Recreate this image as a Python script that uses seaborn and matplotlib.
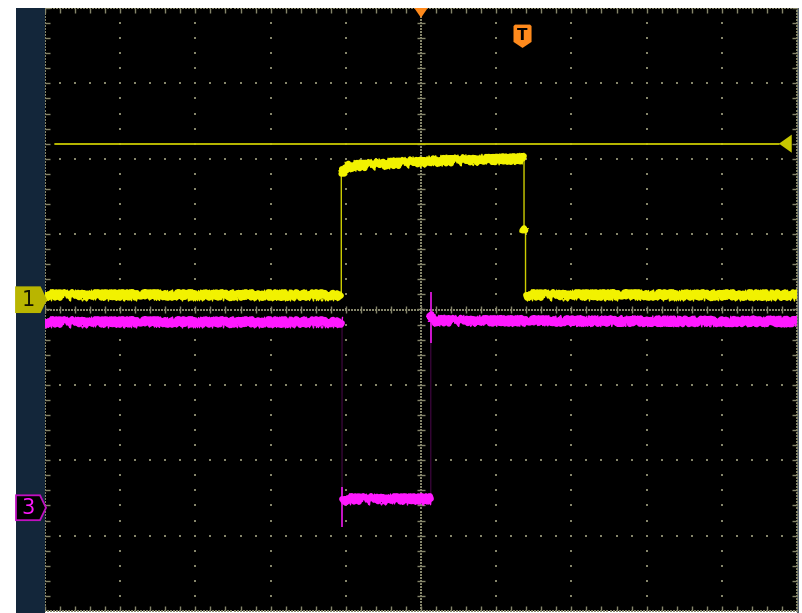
import numpy as np
import pandas as pd
import matplotlib
matplotlib.use("Agg")
import matplotlib.pyplot as plt
import seaborn as sns
from matplotlib.patches import Polygon, Rectangle

# Screen is 10 horizontal x 8 vertical divisions, values are in divisions
ch1_time = [-5.0, -1.06, -1.06, -1.04, -0.95, -0.5, 0.2, 1.37, 1.37, 1.39, 1.39, 5.0]
ch1_level = [0.19, 0.19, 1.80, 1.86, 1.90, 1.93, 1.97, 2.0, 1.08, 1.05, 0.19, 0.19]

ch3_time = [-5.0, -1.05, -1.05, -1.03, 0.13, 0.13, 0.14, 0.17, 5.0]
ch3_level = [-0.16, -0.16, -2.52, -2.52, -2.52, -0.16, -0.06, -0.15, -0.16]

# ringing glitches on channel 3 edges
ch3_glitch_time = [-1.05, 0.13]
ch3_glitch_low = [-2.88, -0.45]
ch3_glitch_high = [-2.36, 0.23]

trigger_level = 2.2
ch1_ground = 0.13
ch3_ground = -2.63

YELLOW = "#f2f200"
MAGENTA = "#ff19ff"
ORANGE = "#ff8a1c"
GRID = "#85856a"
PANEL = "#13263a"

sns.set_style("dark")
fig = plt.figure(figsize=(8.02, 6.13), dpi=100, facecolor="white")
W, H = 802, 613
ax = fig.add_axes([45 / W, 2 / H, 752 / W, 603 / H])
ax.set_facecolor("black")
ax.set_xlim(-5, 5)
ax.set_ylim(-4, 4)
ax.set_xticks([])
ax.set_yticks([])
for s in ax.spines.values():
    s.set_visible(False)

# side panel holding the channel markers
fig.patches.append(Rectangle((16 / W, 0), 29 / W, 1 - 8 / H, transform=fig.transFigure,
                             facecolor=PANEL, edgecolor="none", zorder=-1))
fig.patches.append(Rectangle((797 / W, 0), 2 / W, 1 - 8 / H, transform=fig.transFigure,
                             facecolor="#55606a", edgecolor="none", zorder=-1))

# graticule: dotted division lines
minor = np.arange(-5, 5.001, 0.2)
minor_y = np.arange(-4, 4.001, 0.2)
dot = dict(s=1.7, marker="s", linewidths=0, color=GRID, zorder=1)
for gx in range(-4, 5):
    if gx == 0:
        continue
    ax.scatter(np.full_like(minor_y, gx), minor_y, **dot)
for gy in range(-3, 4):
    if gy == 0:
        continue
    ax.scatter(minor, np.full_like(minor, gy), **dot)

# center cross and border with dense dots and tick marks
dense_x = np.arange(-5, 5.001, 0.04)
dense_y = np.arange(-4, 4.001, 0.04)
for cx in (0, -5, 5):
    ax.scatter(np.full_like(dense_y, cx), dense_y, **dot)
for cy in (0, -4, 4):
    ax.scatter(dense_x, np.full_like(dense_x, cy), **dot)
tick = dict(color=GRID, lw=1.0, zorder=1, solid_capstyle="butt")
for yy in minor_y:
    ax.plot([-0.05, 0.05], [yy, yy], **tick)
    ax.plot([-5, -4.93], [yy, yy], **tick)
    ax.plot([4.93, 5], [yy, yy], **tick)
for xx in minor:
    ax.plot([xx, xx], [-0.05, 0.05], **tick)
    ax.plot([xx, xx], [-4, -3.93], **tick)
    ax.plot([xx, xx], [3.93, 4], **tick)

# trigger level line
ax.plot([-4.87, 4.76], [trigger_level, trigger_level], color="#c8c800", lw=1.3, zorder=2)
ax.add_patch(Polygon([[4.76, trigger_level], [4.93, trigger_level + 0.12],
                      [4.93, trigger_level - 0.12]], closed=True,
                     facecolor="#c8c800", edgecolor="none", zorder=3))


def flat_pieces(t, v):
    """Split a trace into its sustained (non-edge) pieces, one unit per piece."""
    rows = []
    for i in range(len(t) - 1):
        if t[i + 1] - t[i] > 0.015:
            rows.append((i, t[i], v[i]))
            rows.append((i, t[i + 1], v[i + 1]))
    return pd.DataFrame(rows, columns=["piece", "t", "v"])


# waveforms: thin edges plus noisy sustained levels
for t, v, col, edge_alpha in ((ch3_time, ch3_level, MAGENTA, 0.22),
                              (ch1_time, ch1_level, YELLOW, 0.85)):
    df = pd.DataFrame({"t": t, "v": v})
    sns.lineplot(data=df, x="t", y="v", ax=ax, sort=False, estimator=None,
                 color=col, lw=1.0, alpha=edge_alpha, zorder=4)
    pieces = flat_pieces(t, v)
    n0 = len(ax.lines)
    sns.lineplot(data=pieces, x="t", y="v", units="piece", ax=ax,
                 sort=False, estimator=None, color=col, lw=4.2, zorder=4)
    for ln in ax.lines[n0:]:
        ln.set_sketch_params(scale=3.0, length=1.0, randomness=5)
    n0 = len(ax.lines)
    sns.lineplot(data=pieces, x="t", y="v", units="piece", ax=ax,
                 sort=False, estimator=None, color=col, lw=1.0, zorder=4)
    for ln in ax.lines[n0:]:
        ln.set_sketch_params(scale=5.5, length=0.7, randomness=6)

ax.vlines(ch3_glitch_time, ch3_glitch_low, ch3_glitch_high, color=MAGENTA,
          lw=1.1, zorder=4)
ax.set_xlabel("")
ax.set_ylabel("")
ax.set_xlim(-5, 5)
ax.set_ylim(-4, 4)

# horizontal trigger position marker
ax.add_patch(Polygon([[-0.09, 4.0], [0.09, 4.0], [0.0, 3.87]], closed=True,
                     facecolor=ORANGE, edgecolor="none", zorder=5, clip_on=False))

# trigger status badge
tx, ty = 1.35, 3.63
ax.add_patch(Polygon([[tx - 0.1, ty + 0.15], [tx + 0.1, ty + 0.15], [tx + 0.12, ty + 0.13],
                      [tx + 0.12, ty - 0.08], [tx, ty - 0.16], [tx - 0.12, ty - 0.08],
                      [tx - 0.12, ty + 0.13]], closed=True,
                     facecolor=ORANGE, edgecolor="none", zorder=5))
ax.text(tx, ty + 0.01, "T", color="black", fontsize=11, fontweight="bold",
        ha="center", va="center", zorder=6)


# channel ground markers on the side panel
def marker(y0, face, edge, label, txt):
    L, R, tip = -5 - 29 / 75.2, -5 - 5 / 75.2, -5 + 1 / 75.2
    h = 0.165
    ax.add_patch(Polygon([[L, y0 + h], [R, y0 + h], [tip, y0], [R, y0 - h], [L, y0 - h]],
                         closed=True, facecolor=face, edgecolor=edge, lw=1.3,
                         zorder=6, clip_on=False))
    ax.text(L + 0.16, y0 - 0.01, label, color=txt, fontsize=15,
            ha="center", va="center", zorder=7, clip_on=False)


marker(ch1_ground, "#b9b500", "#b9b500", "1", "#141400")
marker(ch3_ground, "black", "#c010c0", "3", MAGENTA)

fig.savefig("out.png", dpi=100, facecolor="white")
